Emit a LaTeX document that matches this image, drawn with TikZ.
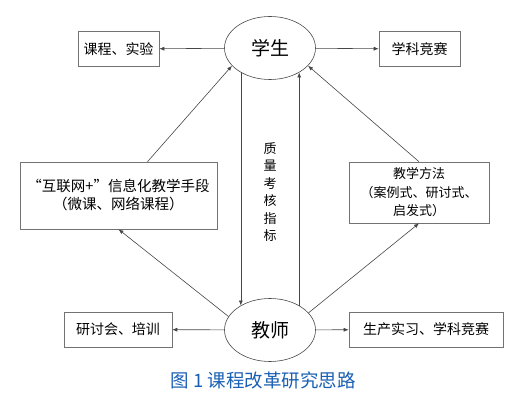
\documentclass[tikz,border=0pt]{standalone}
\usepackage{fontspec}
\setmainfont{Noto Sans CJK SC}
\usetikzlibrary{shapes.geometric, arrows.meta}
\definecolor{capblue}{RGB}{25, 95, 180}
\definecolor{lnegray}{RGB}{70, 70, 70}

\begin{document}
\begin{tikzpicture}[x=1pt, y=1pt,
    role/.style={ellipse, draw=lnegray, line width=0.6pt, minimum width=91pt,
                 minimum height=63pt, inner sep=0pt, font=\fontsize{19}{20}\selectfont},
    item/.style={rectangle, draw=gray!90!black, line width=0.6pt, inner sep=0pt,
                 align=center, font=\fontsize{14}{18}\selectfont},
    link/.style={-{Latex[length=5pt, width=4pt]}, draw=lnegray, line width=0.6pt}]
    \useasboundingbox (0,0) rectangle (523,402);

    % the two roles
    \node[role] (stu) at (270,354) {学生};
    \node[role] (tea) at (270,72) {教师};

    % boxes round the student
    \node[item, minimum width=81pt, minimum height=35pt] (course) at (118.5,353) {课程、实验};
    \node[item, minimum width=81pt, minimum height=35pt] (comp) at (419.5,353) {学科竞赛};

    % middle boxes
    \node[item, minimum width=197pt, minimum height=67pt, font=\fontsize{14.5}{18}\selectfont] (net) at (118.5,206.5)
        {“互联网+”信息化教学手段\\（微课、网络课程）};
    \node[item, minimum width=140pt, minimum height=61pt, font=\fontsize{13}{18.5}\selectfont] (meth) at (419,209.5)
        {教学方法\\（案例式、研讨式、\\启发式）};

    % boxes round the teacher
    \node[item, minimum width=108pt, minimum height=35pt] (sem) at (118,72.5) {研讨会、培训};
    \node[item, minimum width=154pt, minimum height=35pt] (prac) at (426,72.5) {生产实习、学科竞赛};

    % quality index, set upright
    \node[align=center, font=\fontsize{13}{17.5}\selectfont] (qual) at (270,210)
        {质\\量\\考\\核\\指\\标};

    \draw[link] (stu) -- (course);
    \draw[link] (stu) -- (comp);
    \draw[link] (tea) -- (sem);
    \draw[link] (tea) -- (prac);

    \draw[link] (stu.220) -- (tea.140);
    \draw[link] (tea.40) -- (stu.320);

    \draw[link] ([xshift=29pt]net.north) -- (stu.205);
    \draw[link] (tea.162) -- (net.south);
    \draw[link] (meth.north) -- (stu.335);
    \draw[link] (tea.24) -- (meth.south);

    \node[text=capblue, font=\fontsize{18.5}{20}\selectfont] (cap) at (263,22) {图\ 1\ 课程改革研究思路};
\end{tikzpicture}
\end{document}
